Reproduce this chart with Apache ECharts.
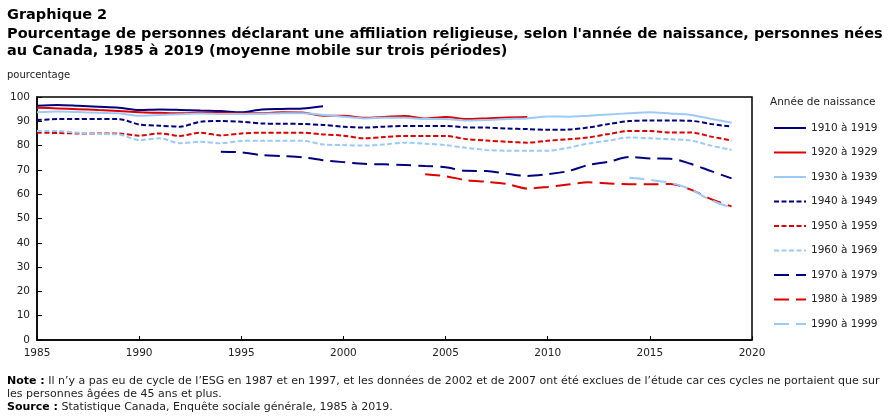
<!DOCTYPE html>
<html>
<head>
<meta charset="utf-8">
<script src="https://cdn.jsdelivr.net/npm/echarts@6/dist/echarts.min.js"></script>
<style>
  html, body { margin: 0; padding: 0; background: #fff; }
  #chart { width: 895px; height: 417px; }
</style>
</head>
<body>
<div id="chart"></div>
<script>
// années 1985 à 2019
const years = [1985, 1986, 1987, 1988, 1989, 1990, 1991, 1992, 1993, 1994,
  1995, 1996, 1997, 1998, 1999, 2000, 2001, 2002, 2003, 2004,
  2005, 2006, 2007, 2008, 2009, 2010, 2011, 2012, 2013, 2014,
  2015, 2016, 2017, 2018, 2019]

const g1910 = [96.4, 96.7, 96.4, 96.0, 95.6, 94.7, 94.9, 94.7, 94.4, 94.2,
  93.7, 94.9, 95.1, 95.3, 96.2, null, null, null, null, null,
  null, null, null, null, null, null, null, null, null, null,
  null, null, null, null, null]
const g1920 = [95.6, 95.3, 95.0, 94.6, 94.2, 93.7, 93.5, 93.3, 93.6, 93.5,
  93.3, 93.3, 93.7, 93.6, 92.3, 92.3, 91.5, 91.8, 92.2, 91.2,
  91.8, 90.9, 91.2, 91.6, 91.8, null, null, null, null, null,
  null, null, null, null, null]
const g1930 = [93.7, 94.0, 93.8, 93.5, 93.3, 92.3, 92.6, 92.9, 93.2, 93.0,
  93.0, 93.1, 93.3, 93.3, 92.6, 91.9, 91.2, 91.5, 91.5, 90.9,
  90.9, 90.3, 90.5, 90.9, 91.2, 92.0, 91.9, 92.3, 92.8, 93.3,
  93.7, 93.2, 92.6, 91.0, 89.4]
const g1940 = [90.5, 90.9, 90.9, 90.9, 90.9, 88.7, 88.2, 87.8, 89.8, 90.1,
  89.8, 89.1, 89.0, 88.9, 88.5, 87.8, 87.4, 87.8, 88.1, 88.1,
  88.1, 87.5, 87.4, 87.0, 86.8, 86.5, 86.6, 87.5, 88.9, 90.1,
  90.3, 90.3, 90.2, 88.9, 87.8]
const g1950 = [85.3, 85.2, 85.0, 85.0, 85.0, 84.1, 85.0, 84.0, 85.3, 84.2,
  85.0, 85.3, 85.3, 85.3, 84.6, 84.1, 83.0, 83.5, 84.0, 84.0,
  84.0, 82.7, 82.1, 81.6, 81.2, 82.0, 82.6, 83.4, 84.8, 86.0,
  86.0, 85.4, 85.4, 83.7, 82.1]
const g1960 = [86.0, 86.0, 85.3, 84.8, 84.6, 82.3, 83.0, 81.0, 81.6, 81.0,
  81.9, 82.0, 82.0, 82.0, 80.5, 80.2, 80.0, 80.5, 81.2, 80.8,
  80.2, 79.1, 78.2, 77.9, 77.9, 77.9, 79.1, 80.9, 82.1, 83.3,
  83.0, 82.6, 82.1, 80.0, 78.2]
const g1970 = [null, null, null, null, null, null, null, null, null, 77.5,
  77.2, 76.1, 75.7, 75.2, 74.0, 73.2, 72.5, 72.3, 72.0, 71.6,
  71.1, 69.6, 69.5, 68.4, 67.5, 68.2, 69.5, 72.0, 73.4, 75.3,
  74.7, 74.6, 72.5, 69.5, 66.5]
const g1980 = [null, null, null, null, null, null, null, null, null, null,
  null, null, null, null, null, null, null, null, null, 68.2,
  67.4, 65.8, 65.1, 64.2, 62.3, 63.0, 64.0, 64.9, 64.4, 64.1,
  64.1, 64.2, 61.9, 58.0, 55.0]
const g1990 = [null, null, null, null, null, null, null, null, null, null,
  null, null, null, null, null, null, null, null, null, null,
  null, null, null, null, null, null, null, null, null, 66.8,
  65.9, 64.7, 62.0, 57.5, 54.4]

const cohorts = ['1910 à 1919', '1920 à 1929', '1930 à 1939', '1940 à 1949', '1950 à 1959',
  '1960 à 1969', '1970 à 1979', '1980 à 1989', '1990 à 1999']
const allValues = [g1910, g1920, g1930, g1940, g1950, g1960, g1970, g1980, g1990]

const colors = ['#00007f', '#dc0000', '#9ccaf8']
const dashes = ['solid', [5, 2.5], [15, 7]]

const chart = echarts.init(document.getElementById('chart'))

// chaque série : couleur selon la décennie, tirets selon le groupe
const seriesArr = allValues.map((vals, i) => {
  return {
    name: cohorts[i],
    type: 'line',
    data: years.map((y, k) => [y, vals[k]]).filter(p => p[1] !== null),
    smooth: 0.3,
    symbol: 'none',
    lineStyle: {
      color: colors[i % 3],
      width: 2,
      type: dashes[Math.floor(i / 3)]
    },
    itemStyle: { color: colors[i % 3] }
  }
})

const font = 'DejaVu Sans'
const option = {
  animation: false,
  textStyle: { fontFamily: font },
  title: [
    {
      text: 'Graphique 2',
      left: 7, top: 8, padding: 0,
      textStyle: { fontFamily: font, fontWeight: 'bold', fontSize: 14.5, color: '#000' }
    },
    {
      text: "Pourcentage de personnes déclarant une affiliation religieuse, selon l'année de naissance, personnes nées\nau Canada, 1985 à 2019 (moyenne mobile sur trois périodes)",
      left: 7, top: 26, padding: 0,
      textStyle: { fontFamily: font, fontWeight: 'bold', fontSize: 14.5, lineHeight: 17, color: '#000' }
    },
    {
      text: 'pourcentage',
      left: 7, top: 70, padding: 0,
      textStyle: { fontFamily: font, fontWeight: 'normal', fontSize: 10, color: '#222' }
    },
    {
      text: 'Année de naissance',
      left: 770, top: 97, padding: 0,
      textStyle: { fontFamily: font, fontWeight: 'normal', fontSize: 10.5, color: '#222' }
    },
    {
      text: '{b|Note :} Il n’y a pas eu de cycle de l’ESG en 1987 et en 1997, et les données de 2002 et de 2007 ont été exclues de l’étude car ces cycles ne portaient que sur\nles personnes âgées de 45 ans et plus.\n{b|Source :} Statistique Canada, Enquête sociale générale, 1985 à 2019.',
      left: 7, top: 375, padding: 0,
      textStyle: {
        fontFamily: font, fontWeight: 'normal', fontSize: 11, lineHeight: 13, color: '#222',
        rich: { b: { fontFamily: font, fontWeight: 'bold', fontSize: 11, color: '#000' } }
      }
    }
  ],
  legend: {
    orient: 'vertical',
    left: 773, top: 121, padding: 0,
    itemWidth: 32, itemHeight: 14, itemGap: 10.5,
    selectedMode: false,
    itemStyle: { opacity: 0 },
    textStyle: { fontFamily: font, fontSize: 10.5, color: '#222', height: 14, lineHeight: 14 },
    data: cohorts
  },
  grid: { left: 37, top: 97, right: 143, bottom: 77, show: true, borderColor: '#000', borderWidth: 1.5 },
  xAxis: {
    type: 'value',
    min: 1985, max: 2020, interval: 5,
    axisLine: { lineStyle: { color: '#000', width: 1.5 } },
    axisTick: { inside: true, length: 4, lineStyle: { color: '#000' } },
    axisLabel: { formatter: v => String(v), color: '#222', fontSize: 10.5, margin: 8 },
    splitLine: { show: false }
  },
  yAxis: {
    type: 'value',
    min: 0, max: 100, interval: 10,
    axisLine: { show: true, lineStyle: { color: '#000', width: 1.5 } },
    axisTick: { show: true, inside: true, length: 5, lineStyle: { color: '#000' } },
    axisLabel: { color: '#222', fontSize: 10.5, margin: 7 },
    splitLine: { show: false }
  },
  series: seriesArr
}
chart.setOption(option)
</script>
</body>
</html>
